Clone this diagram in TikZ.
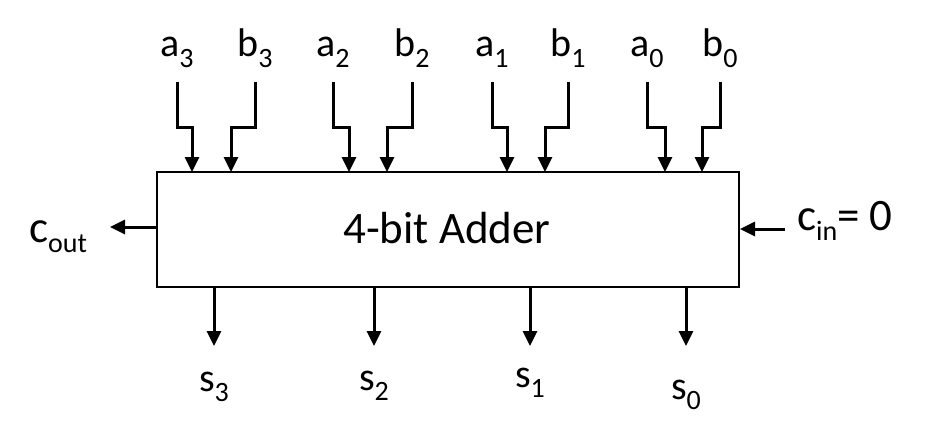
\documentclass[tikz,border=0pt]{standalone}
\usepackage{fontspec}
\setmainfont{Carlito}
\usetikzlibrary{arrows.meta}
\newcommand{\subtxt}[1]{\raisebox{-10pt}{\fontsize{28}{28}\selectfont #1}}
\begin{document}
\begin{tikzpicture}[x=1pt,y=-1pt,
  arr/.style={line width=3pt,-{Triangle[length=15pt,width=14pt]}},
  lab/.style={inner sep=0pt,anchor=base,font=\fontsize{40}{40}\selectfont},
  clab/.style={inner sep=0pt,anchor=base west,font=\fontsize{45}{45}\selectfont},
  boxst/.style={draw,line width=2pt,inner sep=0pt}]
\useasboundingbox (0,0) rectangle (926,428);
\node[boxst,minimum width=582pt,minimum height=115pt] (adder) at (448,229.5) {};
\node[inner sep=0pt,anchor=base,font=\fontsize{45}{45}\selectfont] (title) at (447,243) {4-bit Adder};
% inputs
\foreach \n/\t/\x/\e in {a3/{a\subtxt{3}}/177/192, b3/{b\subtxt{3}}/255/231,
  a2/{a\subtxt{2}}/333/349, b2/{b\subtxt{2}}/412/387,
  a1/{a\subtxt{1}}/492/507, b1/{b\subtxt{1}}/568/545,
  a0/{a\subtxt{0}}/647/665, b0/{b\subtxt{0}}/720/702}{
  \node[lab] (\n) at (\x,57) {\t};
  \coordinate (\n t) at (\x,82);
  \coordinate (\n e) at (\e,172);
  \draw[arr] (\n t) -- (\n t |- 0,127) -| (\n e);
}
% outputs
\foreach \n/\t/\x/\y in {s3/{s\subtxt{3}}/214/391, s2/{s\subtxt{2}}/374/390,
  s1/{s\subtxt{1}}/530/387, s0/{s\subtxt{0}}/686/399}{
  \coordinate (\n t) at (\x,287);
  \coordinate (\n e) at (\x,346);
  \node[lab] (\n) at (\x,\y) {\t};
  \draw[arr] (\n t) -- (\n e);
}
% carries
\node[clab] (cout) at (29,242) {c\subtxt{out}};
\coordinate (coutt) at (110,227);
\draw[arr] (adder.west |- coutt) -- (coutt);
\node[clab] (cin) at (797,230) {c\subtxt{in}= 0};
\coordinate (cins) at (785,229);
\draw[arr] (cins) -- (adder.east |- cins);
\end{tikzpicture}
\end{document}
